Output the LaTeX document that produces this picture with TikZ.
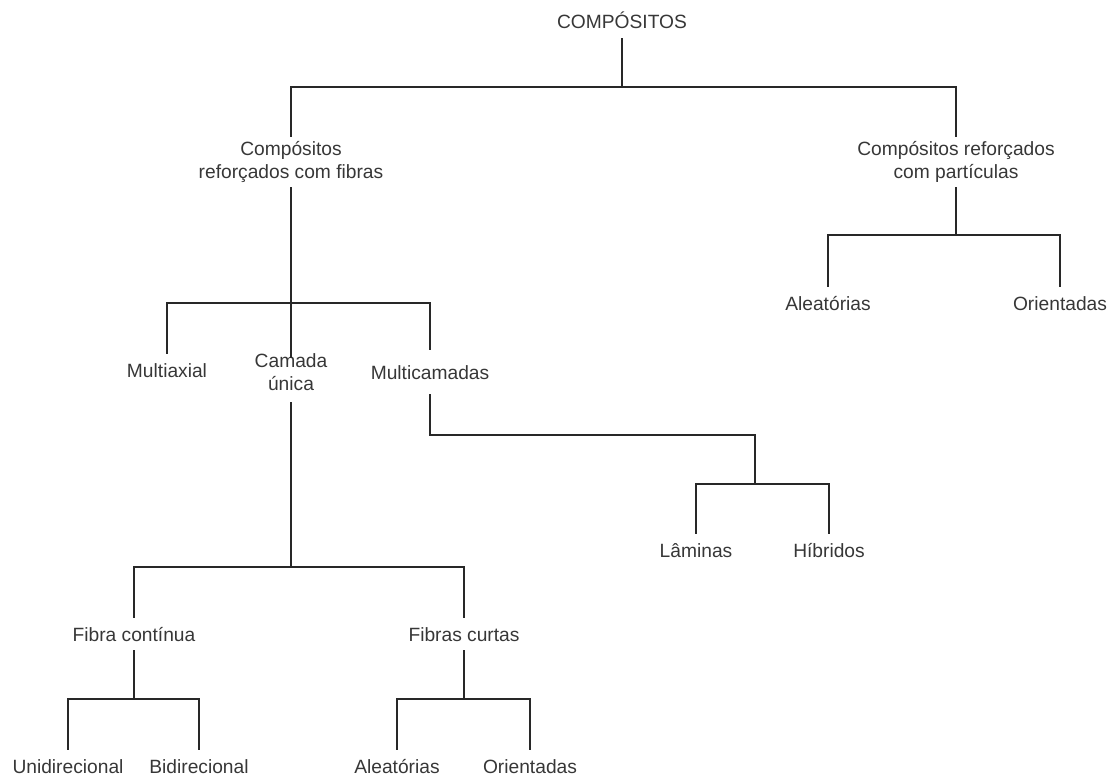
\documentclass[tikz,border=0pt]{standalone}
\usepackage{fontspec}
\setmainfont{Liberation Sans}
\usetikzlibrary{positioning}
\definecolor{TreeLine}{RGB}{40,40,40}
\definecolor{TreeText}{RGB}{55,55,55}

\begin{document}
\begin{tikzpicture}[x=1pt, y=-1pt,
    rotulo/.style={inner sep=0pt, align=center, text=TreeText, font=\fontsize{19.2}{23}\selectfont},
    linha1/.style={rotulo, minimum height=32pt, text height=14pt, text depth=0pt},
    linha2/.style={rotulo, minimum height=50pt},
    ramo/.style={draw=TreeLine, line width=1.5pt}]
    \useasboundingbox (0,0) rectangle (1115,778);

    % nos
    \node[linha1] (comp) at (622,22) {COMPÓSITOS};
    \node[linha2] (fibras) at (291,162) {Compósitos\\reforçados com fibras};
    \node[linha2] (particulas) at (956,162) {Compósitos reforçados\\com partículas};
    \node[linha1] (aleatP) at (828,303) {Aleatórias};
    \node[linha1] (orientP) at (1060,303) {Orientadas};
    \node[linha1] (multiaxial) at (167,370) {Multiaxial};
    \node[linha2] (camada) at (291,372) {Camada\\única};
    \node[linha1, minimum height=44pt] (multicam) at (430,372) {Multicamadas};
    \coordinate (juncao) at (755,484);
    \node[linha1] (laminas) at (696,550) {Lâminas};
    \node[linha1] (hibridos) at (829,550) {Híbridos};
    \node[linha1] (fibracont) at (134,634) {Fibra contínua};
    \node[linha1] (fibracurta) at (464,634) {Fibras curtas};
    \node[linha1] (unidir) at (68,766) {Unidirecional};
    \node[linha1] (bidir) at (199,766) {Bidirecional};
    \node[linha1] (aleatF) at (397,766) {Aleatórias};
    \node[linha1] (orientF) at (530,766) {Orientadas};

    % ligacoes
    \foreach \filho in {fibras, particulas}
        \draw[ramo] (comp.south) -- ++(0,49) -| (\filho.north);
    \foreach \filho in {aleatP, orientP}
        \draw[ramo] (particulas.south) -- ++(0,48) -| (\filho.north);
    \foreach \filho in {multiaxial, multicam}
        \draw[ramo] (fibras.south) -- ++(0,116) -| (\filho.north);
    \draw[ramo, shorten >=-11pt] (fibras.south) -- (camada.north);
    \draw[ramo] (multicam.south) -- ++(0,41) -| (juncao);
    \foreach \filho in {laminas, hibridos}
        \draw[ramo] (juncao) -| (\filho.north);
    \foreach \filho in {fibracont, fibracurta}
        \draw[ramo, shorten <=5pt] (camada.south) -- ++(0,170) -| (\filho.north);
    \foreach \filho in {unidir, bidir}
        \draw[ramo] (fibracont.south) -- ++(0,49) -| (\filho.north);
    \foreach \filho in {aleatF, orientF}
        \draw[ramo] (fibracurta.south) -- ++(0,49) -| (\filho.north);
\end{tikzpicture}
\end{document}
